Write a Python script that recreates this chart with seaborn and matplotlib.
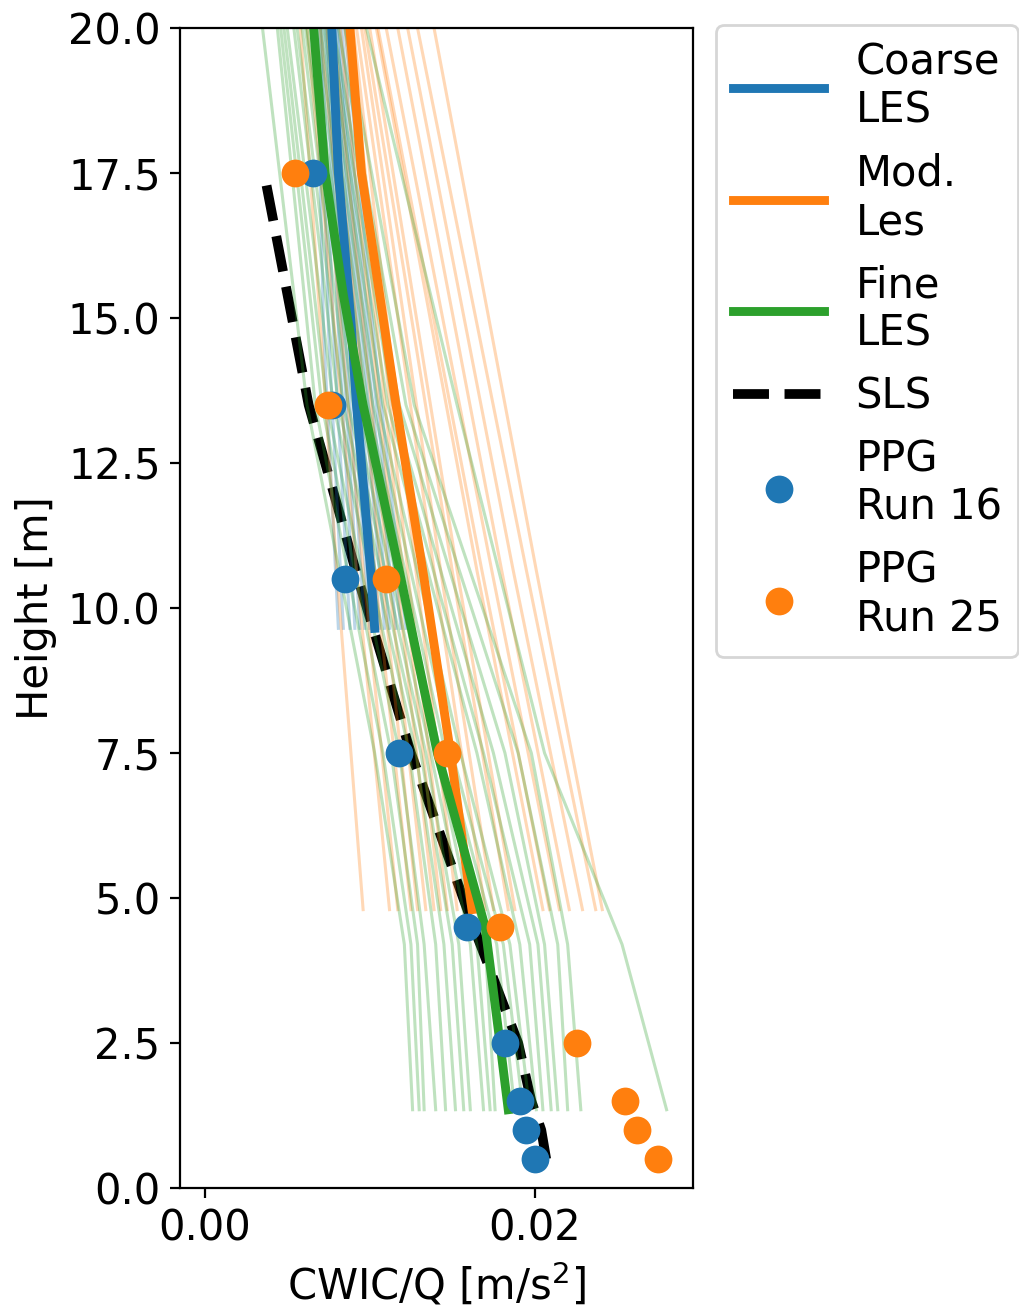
import numpy as np
import pandas as pd
import matplotlib
matplotlib.use("Agg")
import matplotlib.pyplot as plt
import seaborn as sns

# ---- ensemble members: CWIC/Q [m/s^2] at a few heights [m] ----
coarse_heights = [9.65, 14.8, 20.0]
coarse_bottom = [0.0081, 0.0084, 0.0088, 0.0091, 0.0094, 0.0097, 0.0100,
                 0.0103, 0.0106, 0.0109, 0.0112, 0.0116, 0.0119, 0.0122]
coarse_mid = [0.0072, 0.0075, 0.0078, 0.0081, 0.0083, 0.0085, 0.0087,
              0.0089, 0.0091, 0.0093, 0.0095, 0.0097, 0.0099, 0.0102]
coarse_top = [0.0068, 0.0070, 0.0071, 0.0073, 0.0074, 0.0075, 0.0076,
              0.0077, 0.0078, 0.0079, 0.0080, 0.0081, 0.0083, 0.0085]

mod_heights = [4.8, 10.65, 20.0]
mod_bottom = [0.0096, 0.0112, 0.0117, 0.0125, 0.0129, 0.0134, 0.0139,
              0.0143, 0.0147, 0.0153, 0.0170, 0.0175, 0.0184, 0.0188,
              0.0205, 0.0209, 0.0215, 0.0221, 0.0229, 0.0237, 0.0241]
mod_mid = [0.0080, 0.0092, 0.0096, 0.0103, 0.0107, 0.0111, 0.0116,
           0.0120, 0.0123, 0.0128, 0.0139, 0.0143, 0.0150, 0.0153,
           0.0165, 0.0168, 0.0174, 0.0180, 0.0187, 0.0195, 0.0201]
mod_top = [0.0058, 0.0062, 0.0066, 0.0070, 0.0074, 0.0078, 0.0082,
           0.0085, 0.0088, 0.0090, 0.0092, 0.0095, 0.0097, 0.0100,
           0.0104, 0.0105, 0.0110, 0.0117, 0.0123, 0.0129, 0.0139]

fine_heights = [1.35, 4.2, 7.5, 13.5, 20.0]
fine_at_1_35 = [0.0126, 0.0130, 0.0133, 0.0140, 0.0146, 0.0152, 0.0157,
                0.0161, 0.0169, 0.0173, 0.0176, 0.0188, 0.0193, 0.0197,
                0.0201, 0.0205, 0.0210, 0.0214, 0.0220, 0.0228, 0.0280]
fine_at_4_2 = [0.0121, 0.0125, 0.0129, 0.0133, 0.0140, 0.0145, 0.0150,
               0.0154, 0.0161, 0.0165, 0.0170, 0.0177, 0.0181, 0.0185,
               0.0191, 0.0197, 0.0202, 0.0206, 0.0214, 0.0220, 0.0253]
fine_at_7_5 = [0.0103, 0.0108, 0.0113, 0.0118, 0.0124, 0.0128, 0.0131,
               0.0134, 0.0137, 0.0140, 0.0143, 0.0146, 0.0150, 0.0155,
               0.0165, 0.0169, 0.0175, 0.0182, 0.0190, 0.0198, 0.0206]
fine_at_13_5 = [0.0062, 0.0067, 0.0071, 0.0074, 0.0078, 0.0081, 0.0084,
                0.0087, 0.0090, 0.0093, 0.0096, 0.0099, 0.0102, 0.0105,
                0.0108, 0.0111, 0.0114, 0.0118, 0.0122, 0.0127, 0.0153]
fine_at_20 = [0.0035, 0.0044, 0.0046, 0.0048, 0.0050, 0.0054, 0.0056,
              0.0059, 0.0061, 0.0062, 0.0064, 0.0066, 0.0068, 0.0070,
              0.0072, 0.0074, 0.0076, 0.0078, 0.0081, 0.0085, 0.0098]

# ---- ensemble means ----
coarse_mean_h = [9.65, 10.5, 13.5, 14.8, 17.5, 20.0]
coarse_mean_v = [0.0103, 0.0101, 0.0092, 0.0089, 0.0081, 0.0077]
mod_mean_h = [4.8, 7.5, 10.5, 13.5, 17.5, 20.0]
mod_mean_v = [0.0162, 0.0149, 0.0133, 0.0116, 0.0095, 0.0088]
fine_mean_h = [1.35, 2.5, 4.5, 7.5, 10.5, 13.5, 15.4, 17.5, 20.0]
fine_mean_v = [0.0184, 0.0179, 0.0170, 0.0141, 0.0119, 0.0096, 0.0084,
               0.0073, 0.0066]

# ---- single-column (SLS) profile ----
sls_h = [0.5, 1.0, 1.5, 2.5, 4.5, 7.5, 10.5, 13.5, 17.5]
sls_v = [0.0207, 0.0204, 0.0198, 0.0190, 0.0163, 0.0125, 0.0093, 0.0063,
         0.0036]

# ---- PPG measurements ----
ppg_h = [17.5, 13.5, 10.5, 7.5, 4.5, 2.5, 1.5, 1.0, 0.5]
ppg16_v = [0.00655, 0.0077, 0.00848, 0.0118, 0.0159, 0.0182, 0.0191,
           0.0195, 0.0200]
ppg25_v = [0.00545, 0.0075, 0.0110, 0.0147, 0.0179, 0.02255, 0.02545,
           0.0262, 0.02745]

BLUE, ORANGE, GREEN = "#1f77b4", "#ff7f0e", "#2ca02c"


def members_frame(heights, columns):
    rows = []
    for m, vals in enumerate(zip(*columns)):
        for h, v in zip(heights, vals):
            rows.append({"member": m, "height": h, "value": v})
    return pd.DataFrame(rows)


coarse_df = members_frame(coarse_heights, [coarse_bottom, coarse_mid, coarse_top])
mod_df = members_frame(mod_heights, [mod_bottom, mod_mid, mod_top])
fine_df = members_frame(fine_heights, [fine_at_1_35, fine_at_4_2, fine_at_7_5,
                                       fine_at_13_5, fine_at_20])

plt.rcParams["font.size"] = 15
fig = plt.figure(figsize=(5.1, 6.555), dpi=200)
ax = fig.add_axes([0.1765, 0.0938, 0.6794 - 0.1765, 0.9786 - 0.0938])

# individual ensemble members
for df, col in [(coarse_df, BLUE), (mod_df, ORANGE), (fine_df, GREEN)]:
    sns.lineplot(data=df, x="value", y="height", units="member",
                 estimator=None, orient="y", color=col, alpha=0.3, lw=1.1,
                 legend=False, ax=ax)

# ensemble means, SLS profile and measurements
sns.lineplot(x=coarse_mean_v, y=coarse_mean_h, orient="y", color=BLUE, lw=3.2,
             label="Coarse\nLES", ax=ax)
sns.lineplot(x=mod_mean_v, y=mod_mean_h, orient="y", color=ORANGE, lw=3.2,
             label="Mod.\nLes", ax=ax)
sns.lineplot(x=fine_mean_v, y=fine_mean_h, orient="y", color=GREEN, lw=3.2,
             label="Fine\nLES", ax=ax)
sns.lineplot(x=sls_v, y=sls_h, orient="y", color="black", lw=3.5,
             linestyle="--", label="SLS", zorder=1.5, ax=ax)
sns.scatterplot(x=ppg16_v, y=ppg_h, color=BLUE, s=100, linewidth=0,
                label="PPG\nRun 16", zorder=5, ax=ax)
sns.scatterplot(x=ppg25_v, y=ppg_h, color=ORANGE, s=100, linewidth=0,
                label="PPG\nRun 25", zorder=5, ax=ax)

ax.set_xlim(-0.0015, 0.0296)
ax.set_ylim(0, 20)
ax.set_xticks([0.0, 0.02])
ax.set_xticklabels(["0.00", "0.02"])
ax.set_yticks(np.arange(0, 20.1, 2.5))
ax.set_yticklabels([f"{t:.1f}" for t in np.arange(0, 20.1, 2.5)])
ax.set_xlabel("CWIC/Q [m/s$^2$]")
ax.set_ylabel("Height [m]")

handles, labels = ax.get_legend_handles_labels()
ax.legend(handles, labels, loc="upper left", bbox_to_anchor=(1.045, 1.003),
          borderaxespad=0, handlelength=2.2, handletextpad=0.75)

fig.savefig("out.png", dpi=200)
